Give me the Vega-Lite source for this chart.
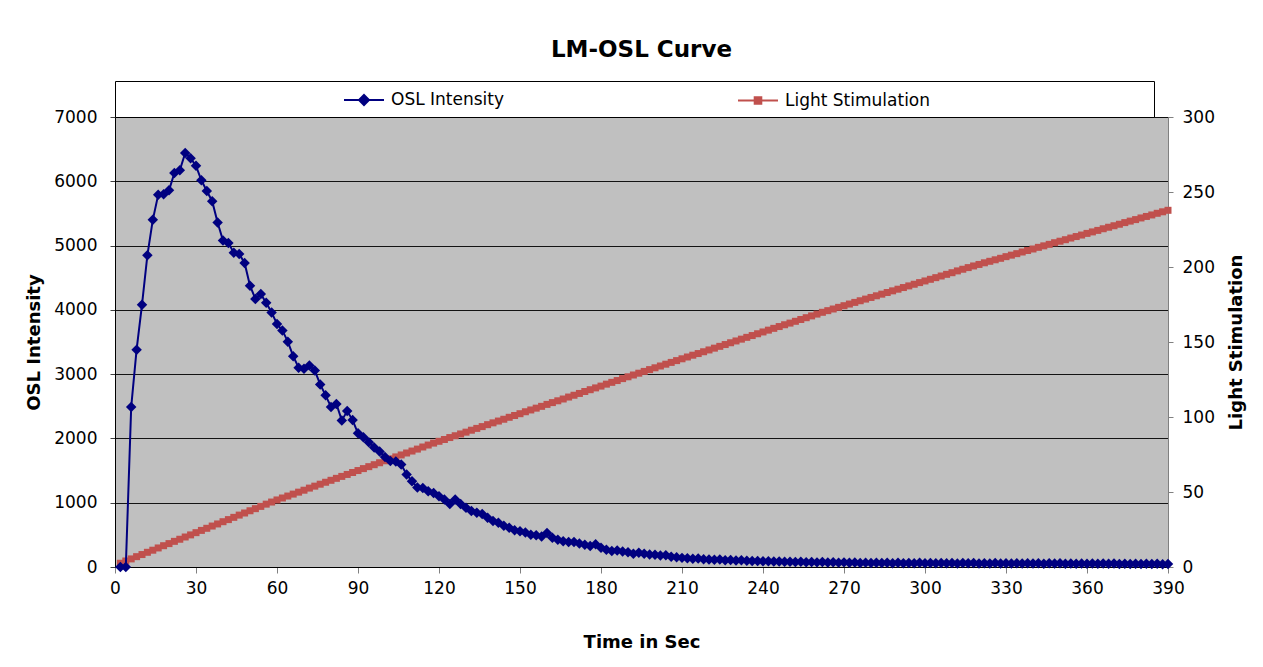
{
  "$schema": "https://vega.github.io/schema/vega-lite/v6.json",
  "width": 1053,
  "height": 450,
  "autosize": {"type": "none"},
  "padding": {"left": 115, "top": 117, "right": 95, "bottom": 100},
  "background": "white",
  "config": {
    "font": "DejaVu Sans",
    "view": {"fill": "#C0C0C0", "stroke": "#808080", "strokeWidth": 1},
    "axis": {"labelColor": "black", "titleColor": "black", "labelFont": "DejaVu Sans", "titleFont": "DejaVu Sans", "labelFontSize": 17, "titleFontSize": 18, "titleFontWeight": "bold"}
  },
  "title": {"text": "LM-OSL Curve", "fontSize": 23, "font": "DejaVu Sans", "fontWeight": "bold", "color": "black", "offset": 19},
  "data": {"values": [
    {"t":2,"osl":0,"ls":2.5},{"t":4,"osl":0,"ls":4.0},{"t":6,"osl":2490,"ls":5.4},{"t":8,"osl":3380,"ls":6.9},{"t":10,"osl":4080,"ls":8.3},
    {"t":12,"osl":4850,"ls":9.8},{"t":14,"osl":5400,"ls":11.2},{"t":16,"osl":5790,"ls":12.7},{"t":18,"osl":5800,"ls":14.2},{"t":20,"osl":5860,"ls":15.6},
    {"t":22,"osl":6130,"ls":17.1},{"t":24,"osl":6170,"ls":18.5},{"t":26,"osl":6440,"ls":20.0},{"t":28,"osl":6360,"ls":21.4},{"t":30,"osl":6240,"ls":22.9},
    {"t":32,"osl":6015,"ls":24.4},{"t":34,"osl":5850,"ls":25.8},{"t":36,"osl":5690,"ls":27.3},{"t":38,"osl":5360,"ls":28.7},{"t":40,"osl":5080,"ls":30.2},
    {"t":42,"osl":5040,"ls":31.6},{"t":44,"osl":4890,"ls":33.1},{"t":46,"osl":4870,"ls":34.6},{"t":48,"osl":4730,"ls":36.0},{"t":50,"osl":4375,"ls":37.5},
    {"t":52,"osl":4170,"ls":38.9},{"t":54,"osl":4245,"ls":40.4},{"t":56,"osl":4110,"ls":41.9},{"t":58,"osl":3960,"ls":43.3},{"t":60,"osl":3780,"ls":44.7},
    {"t":62,"osl":3680,"ls":46.0},{"t":64,"osl":3505,"ls":47.3},{"t":66,"osl":3280,"ls":48.6},{"t":68,"osl":3100,"ls":49.9},{"t":70,"osl":3085,"ls":51.2},
    {"t":72,"osl":3135,"ls":52.6},{"t":74,"osl":3055,"ls":53.9},{"t":76,"osl":2840,"ls":55.2},{"t":78,"osl":2670,"ls":56.5},{"t":80,"osl":2490,"ls":57.8},
    {"t":82,"osl":2535,"ls":59.1},{"t":84,"osl":2280,"ls":60.4},{"t":86,"osl":2425,"ls":61.7},{"t":88,"osl":2285,"ls":63.0},{"t":90,"osl":2080,"ls":64.3},
    {"t":92,"osl":2020,"ls":65.6},{"t":94,"osl":1940,"ls":66.9},{"t":96,"osl":1860,"ls":68.2},{"t":98,"osl":1795,"ls":69.5},{"t":100,"osl":1710,"ls":70.8},
    {"t":102,"osl":1650,"ls":72.1},{"t":104,"osl":1640,"ls":73.4},{"t":106,"osl":1595,"ls":74.7},{"t":108,"osl":1440,"ls":76.0},{"t":110,"osl":1335,"ls":77.3},
    {"t":112,"osl":1235,"ls":78.6},{"t":114,"osl":1230,"ls":80.0},{"t":116,"osl":1180,"ls":81.3},{"t":118,"osl":1150,"ls":82.6},{"t":120,"osl":1100,"ls":83.8},
    {"t":122,"osl":1050,"ls":85.0},{"t":124,"osl":980,"ls":86.3},{"t":126,"osl":1050,"ls":87.5},{"t":128,"osl":980,"ls":88.7},{"t":130,"osl":920,"ls":89.9},
    {"t":132,"osl":870,"ls":91.2},{"t":134,"osl":845,"ls":92.4},{"t":136,"osl":825,"ls":93.6},{"t":138,"osl":765,"ls":94.9},{"t":140,"osl":715,"ls":96.1},
    {"t":142,"osl":690,"ls":97.3},{"t":144,"osl":640,"ls":98.5},{"t":146,"osl":610,"ls":99.8},{"t":148,"osl":570,"ls":101.0},{"t":150,"osl":555,"ls":102.2},
    {"t":152,"osl":535,"ls":103.5},{"t":154,"osl":500,"ls":104.7},{"t":156,"osl":495,"ls":105.9},{"t":158,"osl":475,"ls":107.1},{"t":160,"osl":530,"ls":108.4},
    {"t":162,"osl":455,"ls":109.6},{"t":164,"osl":425,"ls":110.8},{"t":166,"osl":400,"ls":112.0},{"t":168,"osl":390,"ls":113.3},{"t":170,"osl":390,"ls":114.5},
    {"t":172,"osl":365,"ls":115.7},{"t":174,"osl":345,"ls":117.0},{"t":176,"osl":325,"ls":118.2},{"t":178,"osl":355,"ls":119.4},{"t":180,"osl":300,"ls":120.6},
    {"t":182,"osl":270,"ls":121.9},{"t":184,"osl":250,"ls":123.1},{"t":186,"osl":255,"ls":124.3},{"t":188,"osl":240,"ls":125.6},{"t":190,"osl":230,"ls":126.8},
    {"t":192,"osl":205,"ls":128.0},{"t":194,"osl":220,"ls":129.2},{"t":196,"osl":205,"ls":130.4},{"t":198,"osl":195,"ls":131.6},{"t":200,"osl":190,"ls":132.8},
    {"t":202,"osl":178,"ls":134.0},{"t":204,"osl":182,"ls":135.2},{"t":206,"osl":160,"ls":136.4},{"t":208,"osl":150,"ls":137.6},{"t":210,"osl":142,"ls":138.8},
    {"t":212,"osl":135,"ls":140.0},{"t":214,"osl":128,"ls":141.2},{"t":216,"osl":132,"ls":142.3},{"t":218,"osl":120,"ls":143.5},{"t":220,"osl":118,"ls":144.7},
    {"t":222,"osl":112,"ls":145.9},{"t":224,"osl":115,"ls":147.1},{"t":226,"osl":105,"ls":148.3},{"t":228,"osl":108,"ls":149.5},{"t":230,"osl":100,"ls":150.7},
    {"t":232,"osl":104,"ls":151.9},{"t":234,"osl":96,"ls":153.1},{"t":236,"osl":92,"ls":154.3},{"t":238,"osl":95,"ls":155.5},{"t":240,"osl":88,"ls":156.7},
    {"t":242,"osl":90,"ls":157.9},{"t":244,"osl":84,"ls":159.1},{"t":246,"osl":86,"ls":160.3},{"t":248,"osl":80,"ls":161.5},{"t":250,"osl":83,"ls":162.6},
    {"t":252,"osl":78,"ls":163.8},{"t":254,"osl":80,"ls":165.0},{"t":256,"osl":74,"ls":166.2},{"t":258,"osl":78,"ls":167.4},{"t":260,"osl":72,"ls":168.6},
    {"t":262,"osl":76,"ls":169.8},{"t":264,"osl":70,"ls":170.9},{"t":266,"osl":74,"ls":172.0},{"t":268,"osl":68,"ls":173.1},{"t":270,"osl":72,"ls":174.2},
    {"t":272,"osl":66,"ls":175.3},{"t":274,"osl":70,"ls":176.4},{"t":276,"osl":64,"ls":177.5},{"t":278,"osl":68,"ls":178.6},{"t":280,"osl":62,"ls":179.7},
    {"t":282,"osl":67,"ls":180.8},{"t":284,"osl":61,"ls":181.9},{"t":286,"osl":66,"ls":183.0},{"t":288,"osl":60,"ls":184.1},{"t":290,"osl":65,"ls":185.2},
    {"t":292,"osl":59,"ls":186.3},{"t":294,"osl":64,"ls":187.4},{"t":296,"osl":60,"ls":188.5},{"t":298,"osl":65,"ls":189.6},{"t":300,"osl":58,"ls":190.7},
    {"t":302,"osl":63,"ls":191.8},{"t":304,"osl":57,"ls":192.9},{"t":306,"osl":62,"ls":194.0},{"t":308,"osl":58,"ls":195.1},{"t":310,"osl":63,"ls":196.2},
    {"t":312,"osl":56,"ls":197.4},{"t":314,"osl":61,"ls":198.5},{"t":316,"osl":57,"ls":199.6},{"t":318,"osl":62,"ls":200.7},{"t":320,"osl":55,"ls":201.7},
    {"t":322,"osl":60,"ls":202.8},{"t":324,"osl":56,"ls":203.8},{"t":326,"osl":61,"ls":204.8},{"t":328,"osl":54,"ls":205.8},{"t":330,"osl":59,"ls":206.9},
    {"t":332,"osl":55,"ls":207.9},{"t":334,"osl":60,"ls":208.9},{"t":336,"osl":53,"ls":210.0},{"t":338,"osl":58,"ls":211.0},{"t":340,"osl":54,"ls":212.0},
    {"t":342,"osl":59,"ls":213.1},{"t":344,"osl":52,"ls":214.1},{"t":346,"osl":57,"ls":215.1},{"t":348,"osl":53,"ls":216.2},{"t":350,"osl":58,"ls":217.2},
    {"t":352,"osl":52,"ls":218.2},{"t":354,"osl":56,"ls":219.3},{"t":356,"osl":50,"ls":220.3},{"t":358,"osl":55,"ls":221.3},{"t":360,"osl":51,"ls":222.4},
    {"t":362,"osl":56,"ls":223.4},{"t":364,"osl":50,"ls":224.4},{"t":366,"osl":54,"ls":225.5},{"t":368,"osl":49,"ls":226.5},{"t":370,"osl":53,"ls":227.5},
    {"t":372,"osl":48,"ls":228.5},{"t":374,"osl":52,"ls":229.6},{"t":376,"osl":47,"ls":230.6},{"t":378,"osl":51,"ls":231.6},{"t":380,"osl":46,"ls":232.7},
    {"t":382,"osl":50,"ls":233.7},{"t":384,"osl":45,"ls":234.7},{"t":386,"osl":49,"ls":235.8},{"t":388,"osl":44,"ls":236.8},{"t":390,"osl":47,"ls":237.8}
  ]},
  "encoding": {
    "x": {"field": "t", "type": "quantitative",
      "scale": {"domain": [0, 390], "nice": false, "zero": false},
      "axis": {"title": "Time in Sec", "values": [0,30,60,90,120,150,180,210,240,270,300,330,360,390],
        "grid": false, "tickSize": 6, "tickColor": "#808080", "domainColor": "black", "labelPadding": 7,
        "titlePadding": 37, "labelFlush": false, "labelOverlap": false}}
  },
  "layer": [
    {
      "mark": {"type": "line", "strokeWidth": 2, "point": {"shape": "square", "size": 49, "filled": true, "opacity": 1}},
      "encoding": {
        "y": {"field": "ls", "type": "quantitative", "scale": {"domain": [0, 300], "nice": false},
          "axis": {"orient": "right", "title": "Light Stimulation", "titleAngle": 270, "values": [0,50,100,150,200,250,300],
            "grid": false, "tickSize": 5, "tickColor": "#808080", "domainColor": "#808080", "labelPadding": 9, "titlePadding": 31}},
        "color": {"datum": "Light Stimulation", "type": "nominal",
          "scale": {"domain": ["OSL Intensity", "Light Stimulation"], "range": ["#000080", "#C0504D"]},
          "legend": {"orient": "top", "direction": "horizontal", "title": " ", "titleOrient": "right", "titlePadding": 216,
            "symbolOffset": 230, "columnPadding": 12, "strokeColor": "black", "fillColor": "white", "padding": 8,
            "offset": 0, "labelFontSize": 17, "labelFont": "DejaVu Sans", "labelColor": "black", "symbolSize": 400,
            "symbolStrokeWidth": 2, "labelOffset": 16,
            "encode": {"symbols": {"update": {
              "shape": {"signal": "datum.value === 'OSL Intensity' ? 'M-2,0H2M0,-0.5L0.5,0L0,0.5L-0.5,0Z' : 'M-2,0H2M-0.33,-0.33H0.33V0.33H-0.33Z'"},
              "fill": {"signal": "datum.value === 'OSL Intensity' ? '#000080' : '#C0504D'"},
              "stroke": {"signal": "datum.value === 'OSL Intensity' ? '#000080' : '#C0504D'"},
              "fillOpacity": {"value": 1},
              "strokeWidth": {"value": 2}
            }}}}}
      }
    },
    {
      "mark": {"type": "line", "strokeWidth": 2, "point": {"shape": "diamond", "size": 110, "filled": true, "opacity": 1}},
      "encoding": {
        "y": {"field": "osl", "type": "quantitative", "scale": {"domain": [0, 7000], "nice": false},
          "axis": {"orient": "left", "title": "OSL Intensity", "format": "d", "values": [0,1000,2000,3000,4000,5000,6000,7000],
            "grid": true, "gridColor": "black", "gridOpacity": 0.9, "tickSize": 5, "tickColor": "#404040", "domainColor": "black",
            "labelPadding": 13, "titlePadding": 10}},
        "color": {"datum": "OSL Intensity", "type": "nominal"}
      }
    }
  ],
  "resolve": {"scale": {"y": "independent"}}
}
